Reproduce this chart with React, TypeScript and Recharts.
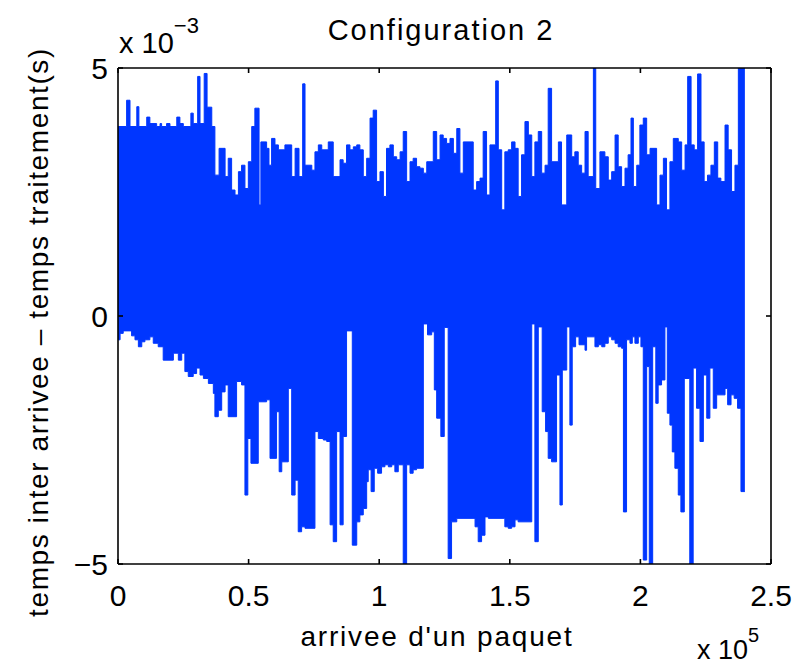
import React from 'react';
import { ComposedChart, Area, XAxis, YAxis } from 'recharts';

// x in units of 10^5 packets, y in units of 10^-3 s
const upperX = [
  0.000, 0.033, 0.046, 0.072, 0.080, 0.110, 0.122, 0.148, 0.161, 0.167, 0.186, 0.199, 0.225, 0.237, 0.250,
  0.279, 0.288, 0.305, 0.314, 0.330, 0.341, 0.359, 0.371, 0.387, 0.410, 0.422, 0.435, 0.448, 0.461, 0.473,
  0.486, 0.499, 0.512, 0.524, 0.540, 0.547, 0.569, 0.578, 0.588, 0.601, 0.614, 0.639, 0.665, 0.678, 0.693,
  0.707, 0.716, 0.742, 0.754, 0.767, 0.780, 0.805, 0.824, 0.850, 0.862, 0.875, 0.888, 0.901, 0.914, 0.926,
  0.939, 0.952, 0.965, 0.977, 0.990, 1.003, 1.016, 1.028, 1.041, 1.054, 1.067, 1.080, 1.092, 1.105, 1.118,
  1.130, 1.143, 1.156, 1.169, 1.182, 1.207, 1.220, 1.233, 1.245, 1.258, 1.271, 1.284, 1.297, 1.309, 1.322,
  1.360, 1.373, 1.386, 1.398, 1.411, 1.424, 1.446, 1.456, 1.469, 1.481, 1.494, 1.507, 1.520, 1.532, 1.545,
  1.558, 1.571, 1.584, 1.596, 1.609, 1.622, 1.635, 1.647, 1.660, 1.686, 1.698, 1.718, 1.737, 1.749, 1.762,
  1.775, 1.788, 1.800, 1.820, 1.829, 1.845, 1.864, 1.877, 1.890, 1.903, 1.915, 1.928, 1.941, 1.953, 1.964,
  1.973, 1.986, 1.998, 2.011, 2.024, 2.037, 2.062, 2.075, 2.088, 2.100, 2.113, 2.126, 2.145, 2.158, 2.171,
  2.181, 2.194, 2.206, 2.219, 2.232, 2.244, 2.257, 2.270, 2.283, 2.296, 2.308, 2.324, 2.336, 2.349, 2.362,
  2.375, 2.400,
];
const upperY = [
  3.82, 4.35, 3.82, 4.22, 3.82, 4.01, 3.88, 3.82, 3.88, 3.82, 3.88, 3.82, 4.01, 3.88, 3.82,
  4.09, 3.88, 4.83, 3.88, 4.89, 4.21, 3.82, 2.84, 3.38, 2.81, 3.18, 2.54, 2.44, 2.91, 3.04,
  2.57, 3.11, 3.82, 4.19, 2.24, 3.51, 3.38, 3.04, 3.58, 3.45, 3.35, 3.45, 2.81, 3.38, 2.81,
  4.68, 3.04, 2.94, 3.31, 3.45, 3.35, 3.51, 2.81, 3.15, 3.08, 3.45, 3.35, 3.41, 3.45, 3.35,
  2.81, 3.18, 3.99, 4.15, 2.71, 2.91, 2.41, 3.38, 3.45, 3.21, 3.15, 3.31, 3.72, 2.71, 3.11,
  3.18, 3.01, 2.98, 2.88, 3.11, 3.72, 3.15, 3.65, 3.58, 3.48, 3.58, 3.28, 3.78, 2.88, 3.51,
  2.54, 2.71, 2.78, 3.72, 2.44, 3.45, 4.74, 3.35, 2.14, 3.31, 3.35, 3.51, 3.38, 2.41, 3.25,
  3.92, 3.65, 2.81, 3.51, 3.72, 2.88, 3.04, 4.59, 3.11, 3.51, 2.24, 3.65, 3.21, 3.31, 3.04,
  2.88, 3.72, 2.81, 5.0, 2.57, 3.31, 3.21, 2.74, 2.91, 3.65, 3.01, 2.61, 2.98, 3.25, 3.99,
  2.61, 3.04, 3.85, 3.99, 3.25, 3.38, 2.24, 2.84, 3.18, 2.14, 3.11, 3.58, 3.51, 2.94, 3.45,
  4.83, 3.45, 3.35, 4.88, 3.51, 2.71, 2.84, 3.04, 3.51, 2.78, 2.71, 3.85, 3.35, 2.51, 3.04,
  5.0, 5.0,
];

const lowerX = [
  0.000, 0.008, 0.020, 0.052, 0.065, 0.078, 0.091, 0.103, 0.122, 0.135, 0.154, 0.173, 0.212, 0.231, 0.244,
  0.256, 0.269, 0.288, 0.301, 0.314, 0.327, 0.346, 0.365, 0.371, 0.384, 0.397, 0.410, 0.422, 0.454, 0.473,
  0.486, 0.497, 0.509, 0.537, 0.569, 0.582, 0.607, 0.617, 0.627, 0.652, 0.665, 0.678, 0.690, 0.703, 0.716,
  0.754, 0.767, 0.786, 0.799, 0.812, 0.824, 0.837, 0.850, 0.862, 0.875, 0.897, 0.914, 0.926, 0.939, 0.952,
  0.958, 0.969, 0.981, 0.994, 1.009, 1.022, 1.035, 1.048, 1.060, 1.073, 1.092, 1.105, 1.118, 1.130, 1.143,
  1.169, 1.185, 1.201, 1.211, 1.220, 1.236, 1.249, 1.264, 1.277, 1.297, 1.367, 1.379, 1.392, 1.405, 1.418,
  1.481, 1.494, 1.507, 1.520, 1.532, 1.584, 1.596, 1.609, 1.624, 1.637, 1.647, 1.660, 1.679, 1.692, 1.701,
  1.718, 1.730, 1.739, 1.752, 1.765, 1.788, 1.794, 1.826, 1.839, 1.852, 1.864, 1.877, 1.890, 1.903, 1.915,
  1.928, 1.935, 1.947, 1.960, 1.969, 1.979, 1.992, 2.002, 2.011, 2.024, 2.034, 2.047, 2.059, 2.068, 2.081,
  2.094, 2.103, 2.113, 2.122, 2.132, 2.145, 2.155, 2.168, 2.189, 2.202, 2.215, 2.228, 2.241, 2.254, 2.266,
  2.279, 2.292, 2.324, 2.334, 2.347, 2.359, 2.372, 2.385, 2.400,
];
const lowerY = [
  -0.48, -0.35, -0.30, -0.40, -0.48, -0.62, -0.52, -0.48, -0.42, -0.55, -0.62, -0.89, -0.75, -0.89, -0.75,
  -1.12, -1.22, -1.16, -1.05, -1.19, -1.26, -1.36, -1.56, -2.03, -1.90, -1.53, -1.39, -2.03, -1.32, -1.39,
  -3.61, -2.47, -2.97, -1.73, -1.69, -2.87, -1.93, -3.14, -2.94, -1.46, -3.61, -3.31, -4.35, -4.25, -4.28,
  -2.33, -2.47, -2.50, -2.53, -4.21, -4.55, -2.33, -4.21, -2.43, -0.30, -4.62, -4.15, -4.01, -3.88, -3.34,
  -3.10, -3.54, -3.07, -3.17, -3.04, -3.00, -3.04, -3.00, -3.14, -3.00, -5.0, -3.00, -3.17, -3.10, -3.07,
  -0.16, -0.38, -0.32, -1.49, -2.06, -2.43, -0.23, -4.89, -4.15, -4.08, -4.25, -4.55, -4.42, -4.05, -4.08,
  -4.25, -4.28, -4.25, -4.11, -4.15, -0.16, -4.55, -0.22, -1.93, -2.33, -2.87, -2.94, -1.19, -3.81, -1.09,
  -0.22, -2.20, -0.62, -0.42, -0.58, -0.69, -0.42, -0.62, -0.58, -0.62, -0.55, -0.42, -0.48, -0.55, -0.62,
  -0.65, -3.95, -0.48, -0.55, -0.42, -0.55, -0.42, -0.62, -4.92, -1.02, -5.0, -0.62, -1.76, -1.39, -1.29,
  -0.22, -1.96, -2.20, -2.74, -3.07, -3.61, -3.95, -1.26, -5.0, -1.05, -1.86, -2.53, -1.19, -2.06, -1.05,
  -1.86, -1.59, -1.46, -1.79, -1.59, -1.66, -1.86, -3.54, -3.54,
];

const xTicks = [0, 0.5, 1, 1.5, 2, 2.5];
const yTicks = [-5, 0, 5];

const BLUE = '#0036ff';
const FONT = '"Liberation Sans", Arial, Helvetica, sans-serif';

const fmtY = (v: number) => (v < 0 ? '\u2212' + Math.abs(v) : String(v));
const fmtX = (v: number) => String(v);
const blank = () => '';

export default function App() {
  const upper = upperX.map((x, i) => ({ x, hi: upperY[i] }));
  const lower = lowerX.map((x, i) => ({ x, lo: lowerY[i] }));
  const tickStyle = { fontSize: 30, fill: '#000', fontFamily: FONT };
  const line = { stroke: '#000', strokeWidth: 1.6 };
  return (
    <div style={{ position: 'absolute', left: 0, top: 0, width: 807, height: 667, background: '#fff' }}>
      <ComposedChart width={807} height={667} margin={{ top: 0, right: 0, bottom: 0, left: 0 }}>
        <XAxis xAxisId="b" dataKey="x" type="number" domain={[0, 2.5]} ticks={xTicks} interval={0}
          orientation="bottom" height={103} tickSize={-5} tickMargin={26} axisLine={line} tickLine={line}
          tick={tickStyle} tickFormatter={fmtX} allowDataOverflow />
        <XAxis xAxisId="t" dataKey="x" type="number" domain={[0, 2.5]} ticks={xTicks} interval={0}
          orientation="top" height={68} tickSize={-5} axisLine={line} tickLine={line}
          tickFormatter={blank} allowDataOverflow />
        <YAxis yAxisId="l" type="number" domain={[-5, 5]} ticks={yTicks} interval={0}
          orientation="left" width={118} tickSize={-5} tickMargin={15} axisLine={line} tickLine={line}
          tick={tickStyle} tickFormatter={fmtY} allowDataOverflow />
        <YAxis yAxisId="r" type="number" domain={[-5, 5]} ticks={yTicks} interval={0}
          orientation="right" width={36} tickSize={-5} axisLine={line} tickLine={line}
          tickFormatter={blank} allowDataOverflow />
        <Area xAxisId="b" yAxisId="l" data={upper} dataKey="hi" type="stepAfter" baseValue={0}
          fill={BLUE} fillOpacity={1} stroke={BLUE} strokeWidth={1} dot={false} activeDot={false}
          isAnimationActive={false} />
        <Area xAxisId="b" yAxisId="l" data={lower} dataKey="lo" type="stepAfter" baseValue={0}
          fill={BLUE} fillOpacity={1} stroke={BLUE} strokeWidth={1} dot={false} activeDot={false}
          isAnimationActive={false} />
      </ComposedChart>
      <svg width={807} height={667} style={{ position: 'absolute', left: 0, top: 0, pointerEvents: 'none' }}>
        <g fontFamily={FONT} fill="#000">
          <text x={441} y={40} fontSize={29} letterSpacing={2} textAnchor="middle">Configuration 2</text>
          <text x={119} y={53} fontSize={29}>
            x 10<tspan dy={-20} fontSize={22}>{'\u22123'}</tspan>
          </text>
          <text x={437} y={646} fontSize={28} letterSpacing={1.8} textAnchor="middle">arrivee d'un paquet</text>
          <text x={697} y={659} fontSize={27}>
            x 10<tspan dy={-17} fontSize={20}>5</tspan>
          </text>
          <text x={0} y={0} fontSize={28} letterSpacing={1.6} textAnchor="middle" dominantBaseline="central"
            transform="translate(38 332) rotate(-90)">
            temps inter arrivee – temps traitement(s)
          </text>
        </g>
      </svg>
    </div>
  );
}
